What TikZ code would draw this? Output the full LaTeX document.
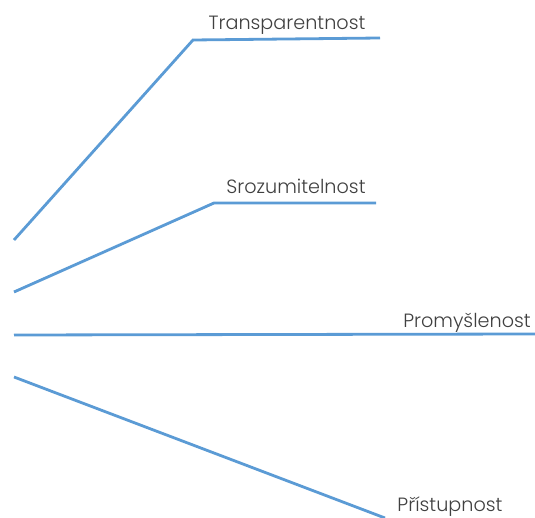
\documentclass[tikz,border=0pt]{standalone}
\usepackage{fontspec}
\setmainfont{Poppins}[UprightFont=* Light]
\definecolor{linec}{HTML}{5B9BD5}
\definecolor{textc}{HTML}{404040}
\begin{document}
\begin{tikzpicture}[x=1pt,y=-1pt,
  branch/.style={draw=linec,line width=2.8pt},
  lbl/.style={text=textc,font=\fontsize{19.2}{23}\selectfont,inner sep=0pt,anchor=base}]
\useasboundingbox (0,0) rectangle (535,518);
\coordinate (a0) at (14,240); \coordinate (a1) at (193,40); \coordinate (a2) at (380,38);
\coordinate (b0) at (14,292); \coordinate (b1) at (214,203); \coordinate (b2) at (376,203);
\coordinate (c0) at (14,335); \coordinate (c1) at (535,334);
\coordinate (d0) at (14,377); \coordinate (d1) at (385,518);
\draw[branch] (a0) -- (a1) -- (a2);
\draw[branch] (b0) -- (b1) -- (b2);
\draw[branch] (c0) -- (c1);
\draw[branch] (d0) -- (d1);
\node[lbl] (ta) at (287,30) {Transparentnost};
\node[lbl] (tb) at (296,194) {Srozumitelnost};
\node[lbl] (tc) at (467,327) {Promyšlenost};
\node[lbl] (td) at (450,511) {Přístupnost};
\end{tikzpicture}
\end{document}
